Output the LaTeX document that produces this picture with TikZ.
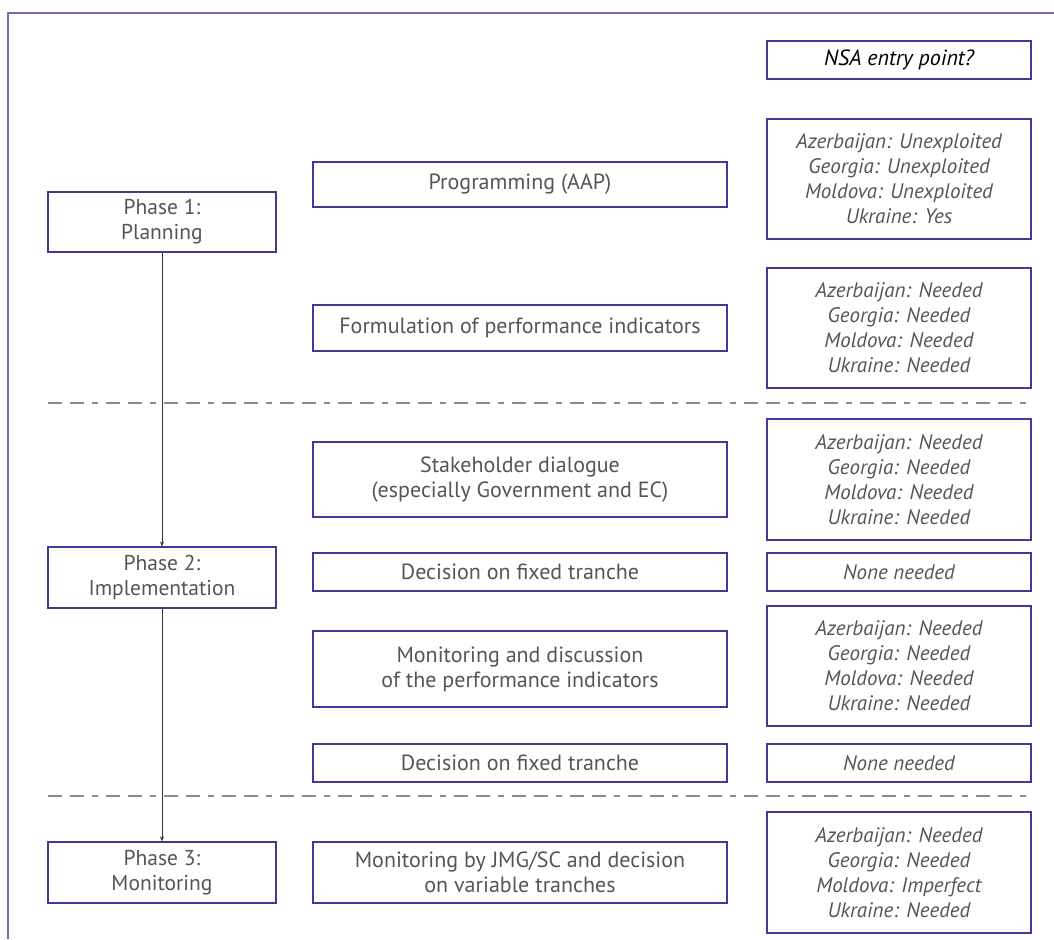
\documentclass[tikz,border=0pt]{standalone}
\usepackage{fontspec}
\setmainfont{PT Sans}
\usetikzlibrary{arrows.meta, positioning}

\definecolor{framecol}{RGB}{110,110,185}
\definecolor{boxcol}{RGB}{60,60,150}
\definecolor{txtcol}{RGB}{85,85,85}

\begin{document}
\begin{tikzpicture}[x=1pt,y=-1pt,
  every node/.style={font=\fontsize{21.5}{25}\selectfont,text=txtcol,align=center,inner sep=0pt},
  box/.style={draw=boxcol,line width=1.2pt,rectangle},
  phase/.style={box,minimum width=228pt},
  task/.style={box,minimum width=414pt,font=\fontsize{22}{25}\selectfont},
  entry/.style={box,minimum width=264pt,font=\itshape\fontsize{21}{25}\selectfont},
  flow/.style={-{Stealth[length=5pt,width=4pt]},line width=0.8pt,black!80},
  sep/.style={gray!90,line width=1.2pt,dash pattern=on 14pt off 8pt on 14pt off 8pt on 6pt off 8pt}]
  \useasboundingbox (0,0) rectangle (1054,939);

  % frame
  \draw[framecol,line width=1.5pt] (1054,13) -- (8,13) -- (8,939);

  % phases
  \node[phase,minimum height=60pt] (phase1) at (162,222) {Phase 1:\\Planning};
  \node[phase,minimum height=61pt] (phase2) at (162,577.5) {Phase 2:\\Implementation};
  \node[phase,minimum height=61pt] (phase3) at (162,872.5) {Phase 3:\\Monitoring};

  % tasks
  \node[task,minimum height=45pt] (prog) at (520,184.5) {Programming (AAP)};
  \node[task,minimum height=46pt] (form) at (520,328) {Formulation of performance indicators};
  \node[task,minimum height=75pt] (stake) at (520,479.5) {Stakeholder dialogue\\(especially Government and EC)};
  \node[task,minimum height=38pt] (fixed1) at (520,572) {Decision on fixed tranche};
  \node[task,minimum height=76pt] (discuss) at (520,669) {Monitoring and discussion\\of the performance indicators};
  \node[task,minimum height=38pt] (fixed2) at (520,763) {Decision on fixed tranche};
  \node[task,minimum height=61pt] (jmg) at (520,872.5) {Monitoring by JMG/SC and decision\\on variable tranches};

  % NSA entry points
  \node[entry,minimum height=38pt,text=black,font=\itshape\fontsize{22}{25}\selectfont] (head) at (899,60) {NSA entry point?};
  \node[entry,minimum height=120pt] (entry1) at (899,179) {Azerbaijan: Unexploited\\Georgia: Unexploited\\Moldova: Unexploited\\Ukraine: Yes};
  \node[entry,minimum height=120pt] (entry2) at (899,328) {Azerbaijan: Needed\\Georgia: Needed\\Moldova: Needed\\Ukraine: Needed};
  \node[entry,minimum height=121pt] (entry3) at (899,479.5) {Azerbaijan: Needed\\Georgia: Needed\\Moldova: Needed\\Ukraine: Needed};
  \node[entry,minimum height=38pt] (none1) at (899,572) {None needed};
  \node[entry,minimum height=120pt] (entry4) at (899,666) {Azerbaijan: Needed\\Georgia: Needed\\Moldova: Needed\\Ukraine: Needed};
  \node[entry,minimum height=38pt] (none2) at (899,763) {None needed};
  \node[entry,minimum height=121pt] (entry5) at (899,872.5) {Azerbaijan: Needed\\Georgia: Needed\\Moldova: Imperfect\\Ukraine: Needed};

  % phase separators
  \draw[sep] (48,403) -- (1031,403);
  \draw[sep] (48,796) -- (1031,796);

  \draw[flow] (phase1) -- (phase2);
  \draw[flow] (phase2) -- (phase3);
\end{tikzpicture}
\end{document}
